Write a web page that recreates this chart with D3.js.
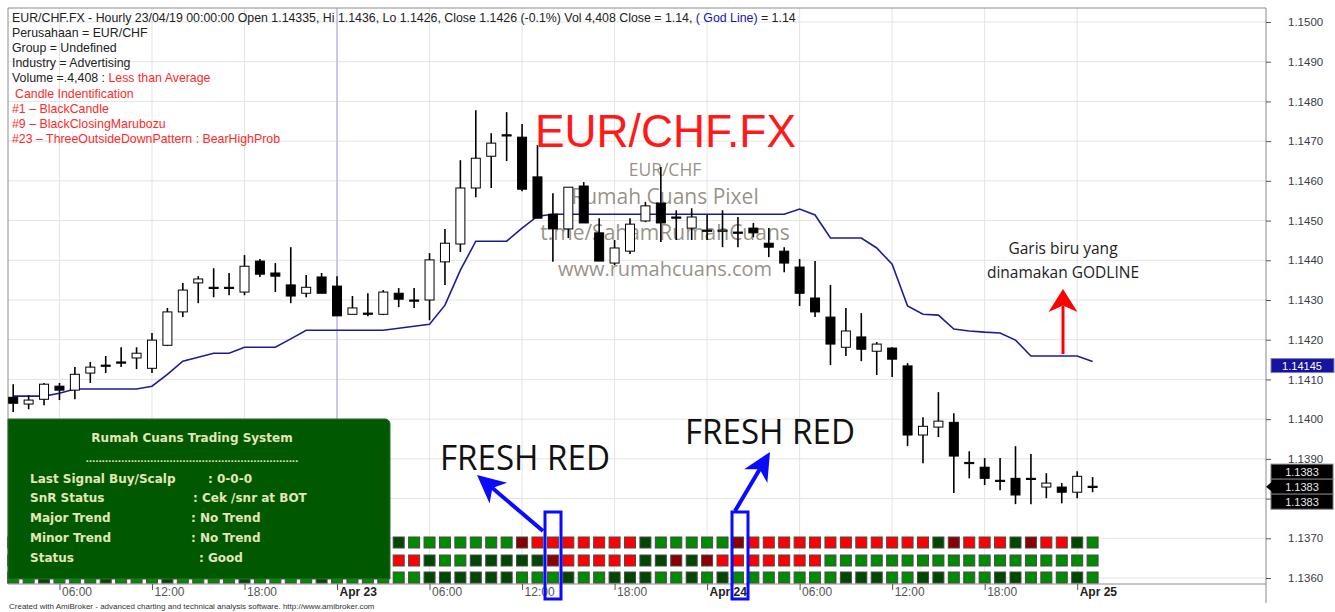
<!DOCTYPE html>
<html>
<head>
<meta charset="utf-8">
<script src="https://cdn.jsdelivr.net/npm/d3@7"></script>
<style>
  body { margin: 0; background: #fff; }
  svg { display: block; font-family: "Liberation Sans", Arial, sans-serif; }
</style>
</head>
<body>
<div id="chart"></div>
<script>
// hourly bars, Apr 22 03:00 .. Apr 25 01:00
var firstBar = new Date(2019, 3, 22, 3);
var lastBar = new Date(2019, 3, 25, 1);

var open = [
  1.14055, 1.14038, 1.14050, 1.14083, 1.14073, 1.14116, 1.14136, 1.14144, 1.14154, 1.14128,
  1.14186, 1.14270, 1.14343, 1.14332, 1.14332, 1.14320, 1.14398, 1.14368, 1.14338, 1.14317,
  1.14358, 1.14335, 1.14264, 1.14267, 1.14264, 1.14317, 1.14300, 1.14300, 1.14396, 1.14441,
  1.14582, 1.14662, 1.14716, 1.14710, 1.14610, 1.14516, 1.14479, 1.14587, 1.14469, 1.14393,
  1.14423, 1.14499, 1.14544, 1.14509, 1.14481, 1.14476, 1.14474, 1.14471, 1.14481, 1.14443,
  1.14423, 1.14383, 1.14305, 1.14257, 1.14181, 1.14207, 1.14171, 1.14179, 1.14134, 1.13960,
  1.13980, 1.13992, 1.13891, 1.13879, 1.13846, 1.13851, 1.13851, 1.13829, 1.13829, 1.13816,
  1.13831];
var high = [
  1.14088, 1.14060, 1.14091, 1.14091, 1.14131, 1.14144, 1.14159, 1.14181, 1.14181, 1.14217,
  1.14280, 1.14343, 1.14360, 1.14380, 1.14368, 1.14413, 1.14403, 1.14393, 1.14433, 1.14363,
  1.14368, 1.14360, 1.14310, 1.14317, 1.14325, 1.14330, 1.14330, 1.14418, 1.14479, 1.14652,
  1.14778, 1.14720, 1.14773, 1.14743, 1.14690, 1.14569, 1.14584, 1.14597, 1.14506, 1.14451,
  1.14506, 1.14547, 1.14635, 1.14526, 1.14531, 1.14514, 1.14526, 1.14509, 1.14494, 1.14481,
  1.14433, 1.14403, 1.14398, 1.14338, 1.14280, 1.14267, 1.14194, 1.14181, 1.14141, 1.14005,
  1.14068, 1.14015, 1.13919, 1.13902, 1.13902, 1.13932, 1.13912, 1.13864, 1.13839, 1.13869,
  1.13854];
var low = [
  1.14018, 1.14025, 1.14035, 1.14048, 1.14050, 1.14091, 1.14116, 1.14131, 1.14126, 1.14116,
  1.14184, 1.14257, 1.14292, 1.14307, 1.14312, 1.14312, 1.14358, 1.14320, 1.14292, 1.14307,
  1.14317, 1.14260, 1.14264, 1.14259, 1.14262, 1.14282, 1.14280, 1.14249, 1.14338, 1.14421,
  1.14559, 1.14582, 1.14650, 1.14574, 1.14506, 1.14396, 1.14456, 1.14494, 1.14398, 1.14388,
  1.14416, 1.14496, 1.14446, 1.14451, 1.14451, 1.14451, 1.14433, 1.14433, 1.14458, 1.14408,
  1.14370, 1.14285, 1.14257, 1.14136, 1.14159, 1.14146, 1.14111, 1.14106, 1.13932, 1.13889,
  1.13955, 1.13814, 1.13851, 1.13834, 1.13821, 1.13786, 1.13786, 1.13801, 1.13788, 1.13801,
  1.13816];
var close = [
  1.14040, 1.14048, 1.14088, 1.14073, 1.14113, 1.14131, 1.14134, 1.14141, 1.14166, 1.14199,
  1.14270, 1.14325, 1.14353, 1.14330, 1.14330, 1.14385, 1.14365, 1.14360, 1.14310, 1.14332,
  1.14317, 1.14260, 1.14280, 1.14264, 1.14320, 1.14302, 1.14297, 1.14401, 1.14443, 1.14582,
  1.14657, 1.14695, 1.14714, 1.14579, 1.14506, 1.14479, 1.14584, 1.14494, 1.14398, 1.14431,
  1.14491, 1.14537, 1.14494, 1.14506, 1.14509, 1.14474, 1.14476, 1.14469, 1.14469, 1.14433,
  1.14393, 1.14317, 1.14270, 1.14189, 1.14222, 1.14176, 1.14189, 1.14151, 1.13960, 1.13982,
  1.13995, 1.13907, 1.13889, 1.13851, 1.13844, 1.13809, 1.13849, 1.13839, 1.13816, 1.13856,
  1.13830];
var godLine = [
  1.14058, 1.14058, 1.14058, 1.14065, 1.14076, 1.14076, 1.14076, 1.14076, 1.14076, 1.14083,
  1.14113, 1.14146, 1.14156, 1.14166, 1.14166, 1.14181, 1.14181, 1.14181, 1.14202, 1.14224,
  1.14224, 1.14224, 1.14224, 1.14224, 1.14224, 1.14229, 1.14234, 1.14239, 1.14287, 1.14375,
  1.14448, 1.14448, 1.14448, 1.14481, 1.14511, 1.14516, 1.14516, 1.14516, 1.14516, 1.14516,
  1.14516, 1.14516, 1.14516, 1.14516, 1.14516, 1.14516, 1.14516, 1.14516, 1.14516, 1.14516,
  1.14516, 1.14529, 1.14514, 1.14456, 1.14456, 1.14456, 1.14431, 1.14390, 1.14285, 1.14264,
  1.14262, 1.14227, 1.14222, 1.14219, 1.14217, 1.14199, 1.14159, 1.14159, 1.14159, 1.14159,
  1.14145];

// signal strips: R red, DR dark red, G green, DG dark green
var signalTop = [
  "G","G","G","G","G","G","G","G","G","G","G","G","G","G","G","G","G","G","G","G","G","G","G","G","G",
  "DG","G","G","G","G","G","G","G","DR","R","R","R","R","R","R","R","DG","G","G","G","G","G","DR",
  "R","R","R","R","R","R","R","R","R","R","R","R","DG","DR","R","R","R","DG","DR","R","R","DG","G"];
var signalMid = [
  "G","G","G","G","G","G","G","G","G","G","G","G","G","G","G","G","G","G","G","G","G","G","G","G","G",
  "R","R","DG","G","G","DG","DG","DG","DG","DG","DR","R","R","R","R","R","DG","DG","DR","DG","DR","R","R",
  "R","R","R","R","R","G","G","G","G","G","G","G","G","G","G","G","G","G","G","G","G","G","G"];
var signalLow = [
  "G","G","DG","G","G","G","DG","G","G","G","DG","G","G","G","G","DG","G","G","G","G","DG","G","G","G","G",
  "G","G","DG","DG","DG","DG","DG","DG","G","G","G","DG","G","G","DG","DG","DG","G","G","DG","G","DG","G",
  "G","G","G","G","G","G","DG","DG","DG","G","G","DG","DG","G","G","G","DG","DG","G","G","G","DG","G"];

var priceTicks = [1.136, 1.137, 1.138, 1.139, 1.140, 1.141, 1.142, 1.143, 1.144, 1.145, 1.146, 1.147, 1.148, 1.149, 1.150];
var timeTicks = [
  new Date(2019, 3, 22, 6), new Date(2019, 3, 22, 12), new Date(2019, 3, 22, 18), new Date(2019, 3, 23, 0),
  new Date(2019, 3, 23, 6), new Date(2019, 3, 23, 12), new Date(2019, 3, 23, 18), new Date(2019, 3, 24, 0),
  new Date(2019, 3, 24, 6), new Date(2019, 3, 24, 12), new Date(2019, 3, 24, 18), new Date(2019, 3, 25, 0)];
var timeTickLabels = ["06:00", "12:00", "18:00", "Apr 23", "06:00", "12:00", "18:00", "Apr 24", "06:00", "12:00", "18:00", "Apr 25"];

var selectedBar = new Date(2019, 3, 23, 0);

var signalColor = {R: "#ff0000", DR: "#8a0000", G: "#008c00", DG: "#004800"};

var width = 1335, height = 612;
var frame = {left: 8, top: 8, right: 1266, bottom: 584};

var svg = d3.select("#chart")
  .append("svg")
    .attr("width", width)
    .attr("height", height);

var hours = d3.timeHour.range(firstBar, d3.timeHour.offset(lastBar, 1));
var bars = hours.map(function(t, i) {
  return {t: t, o: open[i], h: high[i], l: low[i], c: close[i], g: godLine[i]};
});
var lastBarData = bars[bars.length - 1];

var x = d3.scaleTime()
  .domain([firstBar, lastBar])
  .range([13.2, 1092.6]);
var y = d3.scaleLinear()
  .domain([1.136, 1.150])
  .range([578, 22]);

// grid
svg.append("g").selectAll("line")
  .data(priceTicks)
  .enter().append("line")
    .attr("x1", frame.left).attr("x2", frame.right)
    .attr("y1", d => y(d)).attr("y2", d => y(d))
    .attr("stroke", "#e4e4e4");
svg.append("g").selectAll("line")
  .data(timeTicks)
  .enter().append("line")
    .attr("x1", d => x(d)).attr("x2", d => x(d))
    .attr("y1", frame.top).attr("y2", frame.bottom)
    .attr("stroke", "#e4e4e4");

// selected bar marker
svg.append("line")
  .attr("x1", x(selectedBar)).attr("x2", x(selectedBar))
  .attr("y1", frame.top).attr("y2", frame.bottom)
  .attr("stroke", "#a0a0ea");

// frame
svg.append("path")
  .attr("d", "M" + frame.right + "," + frame.top + "H" + frame.left + "V" + frame.bottom + "H" + frame.right)
  .attr("fill", "none").attr("stroke", "#8c8c8c");
svg.append("line")
  .attr("x1", frame.right).attr("x2", frame.right)
  .attr("y1", frame.top).attr("y2", 603)
  .attr("stroke", "#8c8c8c");

// watermark texts
var wm = svg.append("g").attr("fill", "#857d72").attr("fill-opacity", 0.85)
  .attr("font-family", "'Open Sans', 'Noto Sans', sans-serif").attr("text-anchor", "middle");
wm.append("text").attr("x", 665).attr("y", 176).attr("font-size", 17.5).text("EUR/CHF");
wm.append("text").attr("x", 665).attr("y", 204).attr("font-size", 21).text("Rumah Cuans Pixel");
wm.append("text").attr("x", 665).attr("y", 240).attr("font-size", 21).text("t.me/SahamRumahCuans");
wm.append("text").attr("x", 665).attr("y", 276).attr("font-size", 20).text("www.rumahcuans.com");

// God line
svg.append("path")
  .datum(bars)
  .attr("fill", "none")
  .attr("stroke", "#1c1c96")
  .attr("stroke-width", 1.6)
  .attr("d", d3.line().x(d => x(d.t)).y(d => y(d.g)));

// candles
var candle = svg.append("g").selectAll("g")
  .data(bars)
  .enter().append("g");
candle.append("line")
  .attr("x1", d => x(d.t)).attr("x2", d => x(d.t))
  .attr("y1", d => y(d.h)).attr("y2", d => y(d.l))
  .attr("stroke", "#000").attr("stroke-width", 1.6);
candle.append("rect")
  .attr("x", d => x(d.t) - 4.5)
  .attr("width", 9)
  .attr("y", d => y(Math.max(d.o, d.c)))
  .attr("height", d => Math.max(1.2, Math.abs(y(d.o) - y(d.c))))
  .attr("fill", d => d.c > d.o ? "#fff" : "#000")
  .attr("stroke", "#000").attr("stroke-width", 1);

// big title
svg.append("text")
  .attr("x", 535).attr("y", 147)
  .attr("font-size", 47)
  .attr("fill", "#ff1a1a")
  .attr("textLength", 261).attr("lengthAdjust", "spacingAndGlyphs")
  .text("EUR/CHF.FX");

// signal strips
var rows = [{y: 537, s: signalTop}, {y: 555, s: signalMid}, {y: 572, s: signalLow}];
rows.forEach(function(row) {
  svg.append("g").selectAll("rect")
    .data(bars)
    .enter().append("rect")
      .attr("x", d => x(d.t) - 5.5)
      .attr("y", row.y)
      .attr("width", 11).attr("height", 11)
      .attr("fill", (d, i) => signalColor[row.s[i]])
      .attr("stroke", "#4a4a4a").attr("stroke-width", 1);
});

// x axis
var xAxis = svg.append("g")
  .attr("transform", "translate(0," + frame.bottom + ")")
  .call(d3.axisBottom(x).tickValues(timeTicks).tickFormat((d, i) => timeTickLabels[i]).tickSize(6).tickSizeOuter(0));
xAxis.select(".domain").remove();
xAxis.selectAll(".tick line").attr("stroke", "#555");
xAxis.selectAll("text")
  .attr("text-anchor", "start")
  .attr("x", 2).attr("y", 3)
  .attr("font-family", "'Liberation Sans', Arial, sans-serif")
  .attr("font-size", 12)
  .attr("fill", (d, i) => timeTickLabels[i].indexOf("Apr") === 0 ? "#222" : "#555")
  .attr("font-weight", (d, i) => timeTickLabels[i].indexOf("Apr") === 0 ? "bold" : "normal");

// y axis on the right (the label under the last-close boxes stays hidden)
var cy = y(lastBarData.c);
var yAxis = svg.append("g")
  .attr("transform", "translate(" + frame.right + ",0)")
  .call(d3.axisRight(y).tickValues(priceTicks)
    .tickFormat(d => Math.abs(y(d) - cy) < 24 ? "" : d3.format(".4f")(d))
    .tickSize(5).tickPadding(17).tickSizeOuter(0));
yAxis.select(".domain").remove();
yAxis.selectAll(".tick line").attr("stroke", "#555");
yAxis.selectAll("text")
  .attr("font-family", "'Liberation Sans', Arial, sans-serif")
  .attr("font-size", 11.5)
  .attr("fill", "#3a3a4a");

// last value labels
var gy = y(lastBarData.g) + 4;
svg.append("rect").attr("x", 1271).attr("y", gy - 7).attr("width", 63).attr("height", 14)
  .attr("fill", "#14149c").attr("stroke", "#8080c0");
svg.append("text").attr("x", 1302).attr("y", gy + 4).attr("text-anchor", "middle")
  .attr("font-size", 11).attr("fill", "#fff").text(d3.format(".5f")(lastBarData.g));

[-15, 0, 15].forEach(function(off) {
  svg.append("rect").attr("x", 1271).attr("y", cy + off - 7.5).attr("width", 62).attr("height", 15)
    .attr("fill", "#000").attr("stroke", "#777");
  svg.append("text").attr("x", 1302).attr("y", cy + off + 4).attr("text-anchor", "middle")
    .attr("font-size", 11).attr("fill", "#e8e8e8").text(d3.format(".4f")(lastBarData.c));
});
svg.append("path")
  .attr("d", "M" + frame.right + "," + cy + "l6,-5v10z")
  .attr("fill", "#000");

// header info
var info = svg.append("g").attr("font-size", 12.35).attr("fill", "#222");
var head = info.append("text").attr("x", 12).attr("y", 22);
head.append("tspan").text("EUR/CHF.FX - Hourly 23/04/19 00:00:00 Open 1.14335, Hi 1.1436, Lo 1.1426, Close 1.1426 (-0.1%) Vol 4,408 Close = 1.14, ");
head.append("tspan").attr("fill", "#1414b4").text("( God Line)");
head.append("tspan").text(" = 1.14");
info.append("text").attr("x", 12).attr("y", 37).text("Perusahaan = EUR/CHF");
info.append("text").attr("x", 12).attr("y", 52).text("Group = Undefined");
info.append("text").attr("x", 12).attr("y", 67).text("Industry = Advertising");
var vol = info.append("text").attr("x", 12).attr("y", 82);
vol.append("tspan").text("Volume  =.4,408 : ");
vol.append("tspan").attr("fill", "#ff2a2a").text("Less than Average");
var red = info.append("g").attr("fill", "#ff2a2a");
red.append("text").attr("x", 15).attr("y", 98).text("Candle Indentification");
red.append("text").attr("x", 12).attr("y", 113).text("#1 \u2013 BlackCandle");
red.append("text").attr("x", 12).attr("y", 128).text("#9 \u2013 BlackClosingMarubozu");
red.append("text").attr("x", 12).attr("y", 143).text("#23 \u2013 ThreeOutsideDownPattern : BearHighProb");

// trading system panel
var panel = svg.append("g");
panel.append("path")
  .attr("d", "M8,419H385a5,5 0 0 1 5,5V579H8Z")
  .attr("fill", "#005800").attr("stroke", "#2e6e2e");
var pt = panel.append("g")
  .attr("font-family", "'DejaVu Sans', Verdana, sans-serif")
  .attr("font-weight", "bold").attr("font-size", 12).attr("fill", "#e4e6b8");
pt.append("text").attr("x", 192).attr("y", 442).attr("text-anchor", "middle").text("Rumah Cuans Trading System");
pt.append("text").attr("x", 192).attr("y", 462).attr("text-anchor", "middle").attr("font-size", 9)
  .attr("textLength", 213).attr("lengthAdjust", "spacing").text("..................................................................");
var panelRows = [
  ["Last Signal Buy/Scalp", ": 0-0-0", 208, 483],
  ["SnR Status", ": Cek /snr at BOT", 193, 502],
  ["Major Trend", ": No Trend", 191, 522],
  ["Minor Trend", ": No Trend", 191, 542],
  ["Status", ": Good", 199, 562]
];
panelRows.forEach(function(r) {
  pt.append("text").attr("x", 30).attr("y", r[3]).text(r[0]);
  pt.append("text").attr("x", r[2]).attr("y", r[3]).text(r[1]);
});

// annotations
function arrow(g, x1, y1, x2, y2, color, w, len, hw) {
  var dx = x2 - x1, dy = y2 - y1, d = Math.sqrt(dx * dx + dy * dy);
  var ux = dx / d, uy = dy / d, nx = -uy, ny = ux;
  var bx = x2 - ux * len, by = y2 - uy * len;
  var kx = x2 - ux * len * 0.72, ky = y2 - uy * len * 0.72;
  g.append("line").attr("x1", x1).attr("y1", y1).attr("x2", kx).attr("y2", ky)
    .attr("stroke", color).attr("stroke-width", w);
  g.append("path")
    .attr("d", "M" + x2 + "," + y2 + "L" + (bx + nx * hw / 2) + "," + (by + ny * hw / 2) +
      "L" + kx + "," + ky + "L" + (bx - nx * hw / 2) + "," + (by - ny * hw / 2) + "Z")
    .attr("fill", color);
}

var ann = svg.append("g");
ann.append("rect").attr("x", 545).attr("y", 512).attr("width", 16).attr("height", 87)
  .attr("fill", "none").attr("stroke", "#0a0aff").attr("stroke-width", 3);
ann.append("rect").attr("x", 732).attr("y", 512).attr("width", 16).attr("height", 87)
  .attr("fill", "none").attr("stroke", "#0a0aff").attr("stroke-width", 3);
arrow(ann, 543, 531, 477, 475, "#0a0aff", 4, 28, 27);
arrow(ann, 735, 511, 770, 452, "#0a0aff", 4, 28, 27);
arrow(ann, 1063, 354, 1063, 289, "#ff0000", 3, 23, 29);

var at = ann.append("g").attr("font-family", "'Open Sans', 'Noto Sans', sans-serif").attr("fill", "#111");
at.append("text").attr("x", 440).attr("y", 470).attr("font-size", 35)
  .attr("textLength", 170).attr("lengthAdjust", "spacingAndGlyphs").text("FRESH RED");
at.append("text").attr("x", 685).attr("y", 444).attr("font-size", 35)
  .attr("textLength", 170).attr("lengthAdjust", "spacingAndGlyphs").text("FRESH RED");
at.append("text").attr("x", 1063).attr("y", 254).attr("font-size", 15.5).attr("text-anchor", "middle")
  .attr("fill", "#222").text("Garis biru yang");
at.append("text").attr("x", 1063).attr("y", 278).attr("font-size", 15.5).attr("text-anchor", "middle")
  .attr("fill", "#222").text("dinamakan GODLINE");

// footer
svg.append("text")
  .attr("x", 9).attr("y", 609)
  .attr("font-size", 8).attr("fill", "#333")
  .text("Created with AmiBroker - advanced charting and technical analysis software. http://www.amibroker.com");
</script>
</body>
</html>
